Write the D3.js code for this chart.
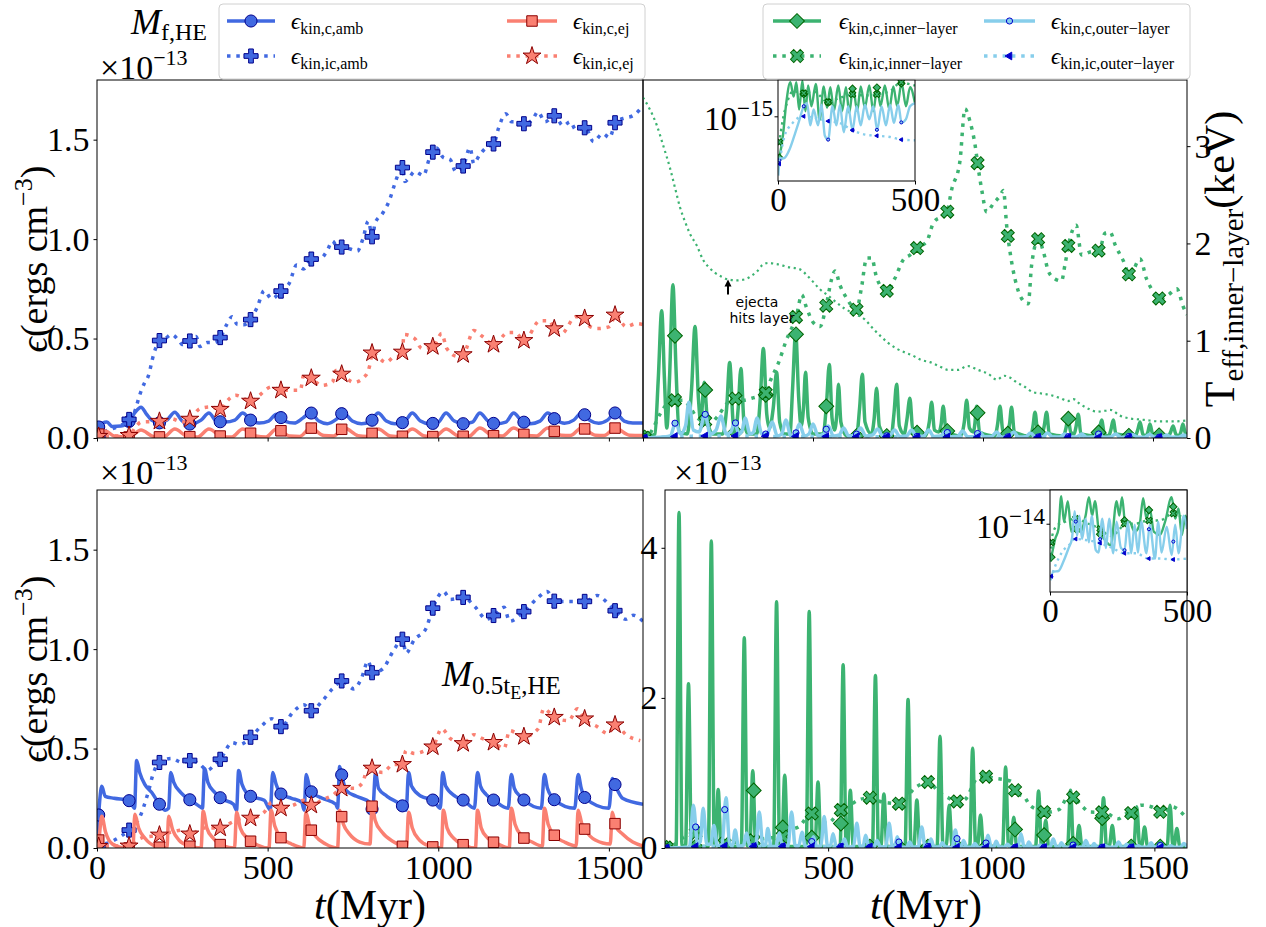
<!DOCTYPE html>
<html><head><meta charset="utf-8">
<script src="https://cdn.jsdelivr.net/npm/d3@7"></script>
<style>body{margin:0;background:#fff}svg{display:block}</style>
</head><body><script>
// ---------------- data ----------------
// time in Myr; energy densities in units of 1e-13 erg cm^-3
const markTimes = [5,94,183,272,361,450,539,628,717,806,895,984,1073,1162,1251,1340,1429,1518];
const xTicksMain = [0,500,1000,1500];

// M_f,HE (top row)
const tlCAmb = [[0,0.0],[6,0.06],[16,0.075],[29,0.08],[45,0.058],[70,0.06],[95,0.085],[112,0.13],[129,0.155],[145,0.12],[160,0.09],[183,0.076],[205,0.09],[228,0.13],[250,0.085],[274,0.07],[305,0.09],[328,0.126],[350,0.085],[375,0.08],[404,0.09],[427,0.126],[450,0.09],[475,0.075],[503,0.085],[526,0.12],[550,0.085],[578,0.075],[603,0.1],[626,0.126],[650,0.085],[675,0.072],[702,0.095],[722,0.126],[748,0.085],[775,0.072],[800,0.08],[824,0.126],[848,0.085],[873,0.072],[900,0.08],[924,0.126],[948,0.085],[973,0.072],[1000,0.08],[1023,0.126],[1047,0.085],[1074,0.072],[1100,0.08],[1122,0.126],[1146,0.085],[1170,0.072],[1198,0.08],[1221,0.126],[1245,0.085],[1270,0.072],[1298,0.085],[1321,0.126],[1345,0.09],[1370,0.074],[1397,0.09],[1420,0.126],[1445,0.088],[1470,0.074],[1496,0.09],[1519,0.126],[1545,0.085],[1570,0.075],[1600,0.075]];
const tlICAmb = [[0,0],[20,0.03],[50,0.05],[92,0.09],[110,0.13],[124,0.21],[140,0.28],[150,0.31],[166,0.42],[183,0.49],[200,0.50],[218,0.52],[240,0.49],[250,0.47],[274,0.49],[290,0.51],[302,0.46],[323,0.48],[345,0.48],[363,0.51],[380,0.57],[396,0.61],[412,0.57],[430,0.57],[452,0.60],[470,0.66],[490,0.74],[512,0.70],[540,0.74],[564,0.78],[585,0.87],[606,0.85],[629,0.90],[653,0.90],[674,0.94],[690,0.99],[705,0.96],[718,0.96],[742,0.95],[763,0.94],[779,1.00],[795,1.09],[807,1.01],[815,1.08],[837,1.13],[858,1.20],[873,1.28],[889,1.35],[896,1.36],[902,1.29],[915,1.31],[931,1.34],[957,1.32],[973,1.40],[985,1.44],[994,1.46],[1015,1.41],[1035,1.40],[1051,1.34],[1074,1.37],[1093,1.46],[1104,1.38],[1120,1.42],[1140,1.46],[1163,1.48],[1177,1.56],[1198,1.63],[1215,1.59],[1229,1.59],[1252,1.58],[1276,1.60],[1292,1.64],[1313,1.59],[1340,1.62],[1366,1.57],[1387,1.59],[1403,1.55],[1431,1.56],[1455,1.49],[1482,1.53],[1502,1.51],[1520,1.59],[1549,1.61],[1570,1.62],[1600,1.67]];
const tlCEj = [[0,0.0],[10,0.03],[25,0.035],[50,0.01],[95,0.005],[129,0.04],[165,0.008],[195,0.005],[228,0.045],[265,0.008],[295,0.005],[328,0.045],[365,0.008],[395,0.005],[427,0.045],[465,0.01],[495,0.005],[526,0.045],[565,0.01],[595,0.008],[626,0.05],[665,0.012],[693,0.01],[725,0.05],[765,0.012],[792,0.008],[824,0.045],[860,0.01],[891,0.007],[924,0.045],[960,0.01],[990,0.007],[1023,0.045],[1060,0.01],[1089,0.008],[1122,0.05],[1160,0.012],[1188,0.01],[1221,0.05],[1260,0.012],[1288,0.01],[1321,0.05],[1360,0.014],[1387,0.012],[1420,0.05],[1460,0.014],[1486,0.012],[1519,0.05],[1560,0.014],[1600,0.012]];
const tlICEj = [[0,0],[8,0.01],[50,0.01],[94,0.013],[113,0.055],[129,0.08],[183,0.084],[218,0.097],[250,0.08],[274,0.097],[302,0.148],[333,0.156],[363,0.144],[375,0.173],[407,0.215],[452,0.185],[470,0.206],[512,0.257],[540,0.24],[564,0.24],[596,0.24],[606,0.32],[629,0.30],[658,0.265],[690,0.28],[700,0.34],[718,0.32],[753,0.28],[790,0.32],[800,0.37],[807,0.43],[816,0.42],[847,0.38],[873,0.41],[893,0.41],[900,0.52],[931,0.50],[952,0.45],[985,0.46],[1010,0.525],[1025,0.45],[1057,0.41],[1074,0.42],[1104,0.54],[1130,0.51],[1163,0.47],[1204,0.53],[1225,0.53],[1252,0.49],[1298,0.59],[1324,0.59],[1342,0.545],[1361,0.525],[1403,0.61],[1431,0.60],[1445,0.56],[1466,0.55],[1502,0.56],[1520,0.62],[1550,0.56],[1581,0.575],[1600,0.57]];

const trCIn = [[0,0.0],[20,0.01],[35,0.02],[45,0.3],[55,0.64],[63,0.3],[70,0.05],[78,0.3],[88,0.77],[97,0.35],[106,0.03],[130,0.02],[143,0.25],[153,0.56],[163,0.2],[170,0.08],[180,0.28],[190,0.08],[205,0.02],[235,0.02],[246,0.15],[255,0.38],[265,0.08],[272,0.03],[280,0.15],[288,0.35],[297,0.08],[310,0.02],[335,0.02],[345,0.2],[354,0.45],[364,0.12],[372,0.05],[383,0.15],[393,0.33],[402,0.08],[415,0.02],[432,0.02],[440,0.25],[449,0.53],[458,0.2],[465,0.06],[472,0.15],[478,0.33],[486,0.1],[500,0.02],[530,0.02],[540,0.18],[548,0.37],[556,0.1],[563,0.04],[570,0.12],[575,0.27],[582,0.08],[600,0.01],[628,0.01],[637,0.15],[645,0.32],[653,0.08],[672,0.02],[680,0.1],[687,0.25],[695,0.06],[715,0.01],[730,0.01],[738,0.12],[746,0.27],[754,0.06],[768,0.02],[776,0.09],[785,0.2],[793,0.05],[830,0.01],[842,0.08],[849,0.18],[857,0.04],[870,0.03],[877,0.07],[883,0.16],[891,0.04],[935,0.01],[945,0.08],[952,0.19],[960,0.05],[972,0.03],[976,0.07],[981,0.16],[990,0.03],[1035,0.01],[1043,0.07],[1050,0.16],[1058,0.04],[1072,0.02],[1078,0.07],[1084,0.155],[1092,0.03],[1140,0.01],[1147,0.06],[1153,0.13],[1161,0.03],[1173,0.02],[1180,0.06],[1187,0.13],[1195,0.02],[1237,0.01],[1244,0.05],[1250,0.10],[1258,0.03],[1268,0.02],[1274,0.06],[1280,0.12],[1288,0.02],[1335,0.01],[1342,0.04],[1349,0.09],[1357,0.02],[1369,0.01],[1376,0.04],[1383,0.09],[1391,0.02],[1448,0.01],[1455,0.04],[1462,0.08],[1470,0.02],[1478,0.01],[1485,0.03],[1491,0.07],[1499,0.02],[1545,0.01],[1552,0.03],[1559,0.06],[1567,0.02],[1575,0.01],[1582,0.03],[1588,0.07],[1596,0.02],[1600,0.02]];
const trICIn = [[0,0],[15,0.01],[30,0.05],[50,0.12],[70,0.17],[94,0.19],[119,0.19],[140,0.15],[160,0.1],[183,0.084],[200,0.08],[220,0.11],[245,0.17],[272,0.198],[295,0.19],[320,0.2],[340,0.21],[361,0.226],[375,0.29],[399,0.38],[419,0.48],[452,0.62],[467,0.72],[480,0.66],[501,0.58],[521,0.56],[537,0.65],[555,0.80],[565,0.84],[579,0.77],[600,0.70],[628,0.645],[642,0.75],[658,0.905],[673,0.905],[685,0.82],[700,0.76],[717,0.74],[740,0.8],[767,0.9],[785,0.92],[806,0.955],[835,0.99],[855,1.085],[893,1.13],[908,1.25],[932,1.39],[947,1.655],[962,1.59],[977,1.47],[986,1.357],[996,1.25],[1011,1.136],[1031,1.18],[1051,1.22],[1060,1.245],[1070,1.06],[1080,0.93],[1094,0.80],[1114,0.70],[1133,0.675],[1143,0.87],[1163,1.0],[1178,0.935],[1192,0.84],[1212,0.80],[1231,0.79],[1241,0.87],[1254,0.99],[1274,1.07],[1290,0.92],[1315,0.935],[1342,0.943],[1359,1.03],[1374,1.035],[1389,0.97],[1413,0.89],[1432,0.82],[1462,0.90],[1481,0.80],[1506,0.725],[1521,0.70],[1545,0.72],[1570,0.75],[1589,0.66],[1600,0.62]];
const trCOut = [[0,0],[60,0.005],[80,0.01],[97,0.08],[110,0.02],[125,0.06],[135,0.18],[148,0.04],[165,0.03],[182,0.12],[198,0.02],[215,0.04],[229,0.11],[245,0.02],[258,0.03],[270,0.08],[282,0.02],[292,0.04],[300,0.10],[315,0.02],[325,0.03],[335,0.10],[350,0.02],[365,0.02],[380,0.08],[395,0.01],[408,0.02],[420,0.09],[435,0.01],[448,0.02],[460,0.07],[475,0.01],[488,0.02],[500,0.07],[515,0.01],[532,0.02],[545,0.06],[560,0.01],[577,0.015],[590,0.05],[605,0.01],[625,0.015],[640,0.05],[655,0.01],[675,0.015],[690,0.045],[705,0.01],[725,0.012],[740,0.04],[755,0.008],[775,0.01],[790,0.04],[805,0.008],[825,0.01],[840,0.04],[855,0.008],[875,0.01],[890,0.035],[905,0.006],[925,0.008],[940,0.035],[955,0.006],[975,0.008],[990,0.03],[1005,0.006],[1025,0.008],[1040,0.03],[1055,0.005],[1075,0.006],[1090,0.03],[1105,0.005],[1125,0.006],[1140,0.025],[1155,0.005],[1175,0.006],[1190,0.025],[1205,0.005],[1225,0.005],[1240,0.02],[1255,0.004],[1275,0.005],[1290,0.02],[1305,0.004],[1325,0.005],[1340,0.02],[1355,0.004],[1375,0.005],[1390,0.02],[1405,0.004],[1425,0.005],[1440,0.018],[1455,0.004],[1475,0.004],[1490,0.018],[1505,0.004],[1525,0.004],[1540,0.015],[1555,0.004],[1575,0.004],[1590,0.015],[1600,0.008]];
const trICOut = [[0,0],[50,0.003],[100,0.008],[200,0.01],[300,0.01],[400,0.008],[500,0.008],[600,0.006],[700,0.006],[800,0.005],[900,0.005],[1000,0.004],[1100,0.004],[1200,0.004],[1300,0.003],[1400,0.003],[1500,0.003],[1600,0.003]];
// effective temperature of the inner layer, keV
const trTeff = [[0,3.5],[20,3.38],[40,3.22],[60,3.0],[79,2.78],[95,2.56],[109,2.37],[124,2.22],[138,2.10],[158,1.98],[177,1.83],[195,1.75],[211,1.70],[230,1.66],[250,1.63],[275,1.62],[299,1.63],[320,1.67],[335,1.71],[352,1.78],[370,1.80],[388,1.79],[405,1.78],[422,1.76],[440,1.75],[464,1.73],[480,1.68],[499,1.61],[520,1.53],[546,1.46],[570,1.39],[593,1.33],[620,1.28],[652,1.22],[675,1.13],[698,1.05],[720,0.98],[745,0.92],[770,0.88],[792,0.85],[820,0.80],[844,0.78],[870,0.74],[898,0.70],[926,0.70],[955,0.74],[985,0.70],[1015,0.66],[1041,0.60],[1062,0.64],[1080,0.62],[1100,0.57],[1121,0.53],[1148,0.47],[1168,0.46],[1200,0.44],[1227,0.41],[1250,0.38],[1266,0.40],[1285,0.35],[1310,0.30],[1335,0.27],[1360,0.28],[1374,0.29],[1403,0.23],[1433,0.20],[1462,0.19],[1490,0.18],[1520,0.17],[1560,0.17],[1599,0.18]];
const teffTicks = [0,1,2,3];

// first 500 Myr of the layers, units of 1e-15 erg cm^-3 (log axis)
const trInCIn = [[4,0.29],[18,0.57],[30,1.46],[45,2.68],[57,1.77],[67,2.68],[77,1.22],[89,2.8],[100,1.16],[110,2.44],[122,1.34],[138,2.56],[152,0.9],[167,2.38],[179,1.28],[191,2.32],[204,1.16],[220,2.44],[234,1.16],[248,2.32],[260,1.1],[274,2.32],[289,1.16],[302,2.38],[317,1.28],[333,2.44],[348,1.16],[362,2.32],[374,1.34],[390,2.44],[406,1.22],[421,2.38],[435,1.34],[451,2.62],[467,1.34],[482,2.32],[500,1.46]];
const trInICIn = [[4,0.45],[18,0.92],[37,1.63],[55,2.07],[91,1.95],[128,2.07],[152,1.83],[179,1.51],[226,1.71],[272,1.89],[317,1.83],[360,1.89],[409,2.07],[449,2.68],[476,2.56],[500,2.44]];
const trInCOut = [[1,0.18],[6,0.29],[24,0.3],[43,0.39],[61,0.59],[79,0.92],[94,1.34],[106,1.46],[118,0.77],[130,1.22],[146,0.77],[159,1.4],[171,0.57],[183,0.51],[199,1.34],[213,0.77],[226,1.4],[240,0.63],[256,1.34],[272,0.67],[287,1.34],[302,0.77],[317,1.4],[333,0.92],[348,1.34],[362,0.67],[378,1.34],[394,0.77],[409,1.4],[423,0.83],[439,1.4],[451,0.83],[467,0.92],[482,1.34],[500,1.46]];
const trInICOut = [[4,0.24],[24,0.57],[49,0.79],[91,1.0],[140,0.95],[183,0.87],[226,0.82],[272,0.67],[317,0.59],[360,0.57],[409,0.55],[449,0.51],[500,0.5]];

// M_0.5tE,HE (bottom row)
const blCAmb = [[0,0],[8,0.24],[14,0.31],[24,0.26],[50,0.25],[92,0.24],[105,0.21],[110,0.2],[116,0.44],[125,0.38],[140,0.32],[160,0.28],[183,0.22],[200,0.19],[210,0.2],[216,0.38],[225,0.33],[245,0.28],[274,0.24],[300,0.21],[309,0.2],[315,0.40],[325,0.33],[345,0.28],[363,0.25],[400,0.22],[409,0.19],[415,0.39],[425,0.32],[450,0.26],[490,0.24],[508,0.19],[515,0.38],[525,0.32],[540,0.27],[570,0.25],[600,0.23],[607,0.19],[613,0.37],[622,0.31],[629,0.28],[660,0.25],[700,0.22],[705,0.2],[711,0.41],[718,0.36],[730,0.29],[760,0.26],[800,0.23],[808,0.19],[816,0.38],[825,0.3],[850,0.26],[896,0.21],[906,0.19],[913,0.38],[922,0.31],[950,0.26],[985,0.24],[1006,0.2],[1013,0.38],[1022,0.31],[1050,0.26],[1074,0.24],[1106,0.2],[1115,0.38],[1124,0.31],[1140,0.27],[1163,0.24],[1205,0.2],[1214,0.37],[1223,0.3],[1240,0.26],[1252,0.24],[1302,0.2],[1311,0.37],[1320,0.3],[1342,0.24],[1400,0.2],[1410,0.37],[1419,0.3],[1431,0.25],[1500,0.2],[1510,0.35],[1520,0.31],[1540,0.25],[1600,0.22]];
const blICAmb = [[0,0],[8,0.01],[40,0.03],[71,0.06],[94,0.09],[124,0.15],[150,0.28],[166,0.38],[183,0.43],[218,0.45],[250,0.43],[274,0.44],[302,0.42],[323,0.39],[340,0.41],[363,0.45],[396,0.53],[418,0.52],[452,0.56],[480,0.61],[512,0.65],[540,0.61],[575,0.685],[606,0.72],[629,0.69],[658,0.735],[690,0.80],[718,0.84],[753,0.80],[774,0.85],[795,0.94],[807,0.88],[837,0.90],[868,0.99],[896,1.05],[905,0.98],[931,1.05],[963,1.10],[985,1.21],[1015,1.29],[1036,1.25],[1074,1.26],[1109,1.21],[1141,1.15],[1163,1.17],[1193,1.21],[1209,1.14],[1252,1.19],[1293,1.26],[1319,1.29],[1342,1.24],[1382,1.24],[1431,1.24],[1466,1.27],[1497,1.23],[1520,1.19],[1550,1.15],[1571,1.17],[1600,1.14]];
const blCEj = [[0,0],[6,0.05],[14,0.16],[25,0.08],[45,0.02],[80,0.0],[105,0.0],[111,0.17],[122,0.1],[140,0.05],[170,0.01],[205,0.0],[210,0.16],[222,0.09],[240,0.04],[270,0.01],[305,0.0],[311,0.185],[322,0.1],[340,0.05],[370,0.01],[403,0.0],[409,0.18],[420,0.1],[440,0.05],[470,0.015],[504,0.0],[510,0.19],[521,0.11],[540,0.05],[570,0.02],[606,0.0],[612,0.18],[623,0.11],[640,0.06],[670,0.02],[705,0.0],[711,0.19],[722,0.12],[740,0.07],[770,0.03],[800,0.02],[806,0.21],[815,0.14],[835,0.08],[870,0.03],[907,0.005],[913,0.18],[924,0.1],[945,0.04],[975,0.01],[1009,0.0],[1015,0.19],[1026,0.1],[1045,0.05],[1075,0.015],[1109,0.0],[1115,0.19],[1126,0.1],[1145,0.05],[1175,0.02],[1208,0.0],[1214,0.2],[1225,0.12],[1245,0.06],[1275,0.03],[1305,0.01],[1311,0.2],[1322,0.12],[1342,0.06],[1370,0.03],[1404,0.01],[1410,0.19],[1421,0.12],[1431,0.09],[1460,0.04],[1504,0.02],[1510,0.18],[1520,0.11],[1540,0.07],[1570,0.03],[1600,0.01]];
const blICEj = [[0,0],[8,0.01],[50,0.01],[94,0.01],[129,0.05],[183,0.065],[218,0.08],[250,0.09],[274,0.07],[312,0.10],[363,0.10],[396,0.13],[428,0.15],[452,0.15],[490,0.18],[512,0.23],[540,0.20],[575,0.215],[606,0.24],[629,0.215],[658,0.24],[690,0.265],[718,0.30],[753,0.30],[779,0.33],[795,0.42],[807,0.40],[837,0.38],[868,0.42],[896,0.42],[905,0.49],[931,0.475],[963,0.49],[985,0.51],[1010,0.60],[1036,0.55],[1074,0.525],[1104,0.57],[1130,0.55],[1163,0.53],[1193,0.50],[1209,0.59],[1252,0.56],[1293,0.60],[1309,0.70],[1342,0.655],[1382,0.64],[1408,0.70],[1431,0.645],[1466,0.61],[1497,0.575],[1520,0.62],[1550,0.57],[1592,0.54]];

const brCIn = [[0,0.0],[34,0.02],[43,4.47],[52,0.03],[63,0.03],[72,2.19],[81,0.02],[133,0.02],[142,4.09],[151,0.03],[155,0.03],[163,0.78],[172,0.02],[234,0.02],[243,2.80],[252,0.03],[260,0.03],[269,1.03],[278,0.02],[333,0.02],[342,3.28],[351,0.03],[358,0.03],[367,0.97],[376,0.02],[433,0.02],[442,3.15],[451,0.03],[460,0.03],[469,0.88],[478,0.02],[537,0.02],[546,2.44],[555,0.03],[560,0.03],[568,0.77],[577,0.02],[636,0.02],[645,2.30],[654,0.03],[662,0.03],[671,0.72],[680,0.02],[736,0.02],[745,1.98],[754,0.03],[763,0.03],[772,0.64],[781,0.02],[834,0.02],[843,1.49],[852,0.03],[862,0.03],[871,0.57],[880,0.02],[934,0.02],[943,1.33],[952,0.03],[958,0.03],[967,0.44],[976,0.02],[1035,0.02],[1044,1.08],[1053,0.03],[1060,0.03],[1069,0.41],[1078,0.02],[1136,0.02],[1145,0.76],[1154,0.03],[1158,0.03],[1167,0.37],[1176,0.02],[1234,0.02],[1243,0.77],[1252,0.03],[1260,0.03],[1269,0.30],[1278,0.02],[1335,0.02],[1344,0.67],[1353,0.03],[1362,0.03],[1371,0.30],[1380,0.02],[1437,0.02],[1446,0.55],[1455,0.03],[1461,0.03],[1470,0.28],[1479,0.02],[1539,0.02],[1548,0.57],[1557,0.02],[1560,0.02],[1569,0.26],[1578,0.02],[1600,0.02]];
const brICIn = [[0,0],[30,0.05],[60,0.15],[94,0.2],[130,0.12],[183,0.06],[230,0.08],[268,0.10],[310,0.13],[359,0.15],[390,0.25],[409,0.28],[449,0.46],[470,0.38],[498,0.33],[540,0.51],[560,0.55],[593,0.64],[630,0.67],[660,0.62],[687,0.60],[719,0.59],[766,0.80],[790,0.86],[808,0.88],[840,0.74],[860,0.69],[897,0.62],[918,0.64],[960,0.94],[986,0.95],[1010,0.93],[1060,0.89],[1078,0.73],[1102,0.68],[1118,0.57],[1150,0.50],[1167,0.475],[1207,0.51],[1238,0.69],[1256,0.66],[1280,0.55],[1301,0.48],[1345,0.475],[1390,0.39],[1410,0.45],[1437,0.475],[1458,0.57],[1490,0.55],[1529,0.47],[1553,0.55],[1595,0.42]];
const brCOut = [[0,0],[75,0.01],[87,0.57],[100,0.05],[108,0.08],[117,0.53],[128,0.05],[140,0.05],[150,0.3],[160,0.03],[175,0.05],[187,0.67],[198,0.05],[207,0.04],[215,0.24],[225,0.02],[240,0.03],[250,0.2],[260,0.02],[278,0.03],[289,0.48],[300,0.03],[308,0.04],[315,0.26],[325,0.02],[340,0.02],[350,0.2],[360,0.02],[377,0.03],[388,0.48],[399,0.03],[410,0.03],[420,0.21],[430,0.02],[445,0.02],[455,0.15],[465,0.02],[478,0.03],[488,0.42],[498,0.03],[507,0.03],[515,0.19],[525,0.02],[540,0.02],[550,0.12],[560,0.01],[578,0.02],[588,0.33],[598,0.02],[607,0.02],[615,0.17],[625,0.01],[640,0.01],[650,0.1],[660,0.01],[677,0.02],[687,0.33],[697,0.02],[704,0.02],[712,0.15],[722,0.01],[740,0.01],[750,0.08],[760,0.01],[777,0.02],[787,0.28],[797,0.02],[807,0.02],[815,0.12],[825,0.01],[840,0.01],[850,0.07],[860,0.01],[880,0.01],[890,0.24],[900,0.01],[907,0.01],[915,0.1],[925,0.01],[940,0.01],[950,0.06],[960,0.01],[980,0.01],[990,0.17],[1000,0.01],[1007,0.01],[1015,0.09],[1025,0.01],[1040,0.01],[1050,0.05],[1060,0.01],[1081,0.01],[1091,0.19],[1101,0.01],[1108,0.01],[1115,0.08],[1125,0.01],[1140,0.01],[1150,0.04],[1160,0.01],[1180,0.01],[1190,0.12],[1200,0.01],[1207,0.01],[1215,0.07],[1225,0.01],[1240,0.01],[1250,0.04],[1260,0.01],[1280,0.01],[1290,0.1],[1300,0.01],[1307,0.01],[1315,0.06],[1325,0.01],[1340,0.01],[1350,0.03],[1360,0.01],[1380,0.01],[1390,0.08],[1400,0.01],[1407,0.01],[1415,0.05],[1425,0.01],[1440,0.01],[1450,0.03],[1460,0.01],[1480,0.01],[1490,0.07],[1500,0.01],[1507,0.01],[1515,0.04],[1525,0.01],[1540,0.01],[1550,0.03],[1560,0.01],[1580,0.01],[1590,0.06],[1600,0.02]];
const brICOut = [[0,0],[50,0.005],[100,0.02],[200,0.025],[300,0.02],[400,0.02],[500,0.015],[600,0.015],[700,0.012],[800,0.01],[900,0.01],[1000,0.01],[1100,0.008],[1200,0.008],[1300,0.006],[1400,0.006],[1500,0.005],[1600,0.005]];
const brTicks = [0,2,4];

// first 500 Myr, units of 1e-14 erg cm^-3 (log axis)
const brInCIn = [[2,0.33],[19,0.64],[31,0.86],[41,2.25],[51,1.06],[65,1.94],[78,0.79],[93,0.86],[111,0.79],[130,1.27],[142,2.18],[154,1.27],[164,1.94],[179,0.79],[198,0.64],[222,0.53],[243,1.94],[253,1.27],[263,2.18],[275,0.97],[290,1.06],[309,0.79],[327,0.97],[340,2.12],[352,1.16],[364,1.57],[379,0.79],[401,0.72],[420,1.06],[444,2.18],[457,1.16],[469,1.57],[481,0.72],[494,1.27],[500,1.06]];
const brInICIn = [[0,0.33],[8,0.70],[25,0.94],[56,1.06],[93,1.16],[140,1.0],[183,0.86],[220,0.70],[250,0.81],[272,1.0],[310,1.0],[360,1.10],[400,1.10],[449,1.35],[480,1.24],[500,1.20]];
const brInCOut = [[2,0.19],[12,0.245],[31,0.25],[49,0.33],[68,0.49],[80,0.64],[90,1.44],[99,0.70],[107,1.27],[117,0.64],[130,1.16],[142,0.58],[152,1.27],[167,0.46],[177,0.43],[191,1.16],[204,0.49],[216,1.16],[231,0.42],[243,1.06],[259,0.49],[272,0.46],[284,1.06],[296,0.42],[309,0.97],[321,0.43],[333,1.06],[352,0.42],[364,0.97],[383,0.36],[395,1.06],[407,0.43],[426,0.92],[444,0.40],[457,0.97],[469,0.42],[488,1.27],[500,0.86]];
const brInICOut = [[2,0.20],[19,0.29],[43,0.43],[80,0.58],[90,0.64],[130,0.62],[181,0.57],[228,0.49],[269,0.42],[315,0.42],[358,0.36],[401,0.36],[448,0.35],[500,0.36]];

// ---------------- styling ----------------
const SERIF = "'Liberation Serif','DejaVu Serif',serif";
const SANS = "'DejaVu Sans',sans-serif";
const COL = {amb:'#4169e1', ej:'#fa8072', inner:'#3cb371', outer:'#87ceeb'};
const STY = {
  cAmb:{color:COL.amb, dotted:false, sym:'circle', fill:COL.amb, edge:'#00008b'},
  icAmb:{color:COL.amb, dotted:true, sym:'plus', fill:COL.amb, edge:'#00008b'},
  cEj:{color:COL.ej, dotted:false, sym:'square', fill:COL.ej, edge:'#8b0000'},
  icEj:{color:COL.ej, dotted:true, sym:'star', fill:COL.ej, edge:'#8b0000'},
  cIn:{color:COL.inner, dotted:false, sym:'diamond', fill:COL.inner, edge:'#006400'},
  icIn:{color:COL.inner, dotted:true, sym:'x', fill:COL.inner, edge:'#006400'},
  cOut:{color:COL.outer, dotted:false, sym:'ring', fill:COL.outer, edge:'#0000cd'},
  icOut:{color:COL.outer, dotted:true, sym:'tri', fill:'#0000cd', edge:'#0000cd'}
};
const MAIN = {lw:3.5, dash:'3.5,5.8', ms:1};
const INSET = {lw:2.4, dash:'2.4,4', ms:0.5};

const svg = d3.select('body').append('svg').attr('width',1266).attr('height',927);
const defs = svg.append('defs');
let clipN = 0;
function clipGroup(b){
  const id = 'clip'+(clipN++);
  defs.append('clipPath').attr('id',id).append('rect')
    .attr('x',b[0]).attr('y',b[2]).attr('width',b[1]-b[0]).attr('height',b[3]-b[2]);
  return svg.append('g').attr('clip-path',`url(#${id})`);
}
function symPath(kind, s){
  const a = {circle:115, plus:110, square:110, star:100, diamond:110, x:105, ring:30, tri:26}[kind]*s*s;
  const t = {circle:d3.symbolCircle, plus:d3.symbolCross, square:d3.symbolSquare, star:d3.symbolStar,
             diamond:d3.symbolSquare, x:d3.symbolCross, ring:d3.symbolCircle, tri:d3.symbolTriangle}[kind];
  return d3.symbol(t, a)();
}
const symRot = {diamond:45, x:45, tri:-90};
function drawMarker(g, x, y, sty, s){
  g.append('path').attr('d', symPath(sty.sym, s))
    .attr('transform', `translate(${x},${y}) rotate(${symRot[sty.sym]||0})`)
    .attr('fill', sty.fill).attr('stroke', sty.edge).attr('stroke-width', 1);
}
function yAtX(node, x){
  let lo = 0, hi = node.getTotalLength();
  for(let i=0;i<40;i++){
    const mid = (lo+hi)/2;
    if(node.getPointAtLength(mid).x < x) lo = mid; else hi = mid;
  }
  return node.getPointAtLength((lo+hi)/2).y;
}
function drawSeries(g, data, xS, yS, sty, o){
  const line = d3.line().x(d=>xS(d[0])).y(d=>yS(d[1])).curve(d3.curveMonotoneX);
  const p = g.append('path').attr('d', line(data)).attr('fill','none')
    .attr('stroke', sty.color).attr('stroke-width', o.lw)
    .attr('stroke-dasharray', sty.dotted ? o.dash : null);
  const node = p.node();
  const [d0, d1] = xS.domain();
  const lo = Math.max(d0, data[0][0]), hi = Math.min(d1, data[data.length-1][0]);
  markTimes.filter(t => t>=lo && t<=hi).forEach(t => {
    const x = xS(t);
    drawMarker(g, x, yAtX(node, x), sty, o.ms);
  });
}
// text made of runs: {t, fs, it, sh (baseline shift in px, negative = up)}
function rich(g, x, y, parts, o={}){
  const t = g.append('text').attr('x',x).attr('y',y).attr('font-family',o.family||SERIF)
    .attr('text-anchor', o.anchor||'start').attr('fill','#000');
  if(o.rotate) t.attr('transform',`rotate(${o.rotate},${x},${y})`);
  let cur = 0;
  parts.forEach(p => {
    const sh = p.sh||0;
    t.append('tspan').attr('dy', sh-cur).attr('font-size', p.fs)
      .attr('font-style', p.it ? 'italic' : null).text(p.t);
    cur = sh;
  });
  return t;
}
function frame(b){
  svg.append('rect').attr('x',b[0]).attr('y',b[2]).attr('width',b[1]-b[0]).attr('height',b[3]-b[2])
    .attr('fill','none').attr('stroke','#000').attr('stroke-width',1);
}
function styleAxis(g, fs){
  g.select('.domain').remove();
  g.selectAll('text').attr('font-family',SERIF).attr('font-size',fs).attr('fill','#000');
  g.selectAll('line').attr('stroke','#000');
}
const TFS = 34;
const fmtInt = d3.format('d');
function offsetLabel(x, y){
  rich(svg, x, y, [{t:'×10', fs:TFS},{t:'−13', fs:22, sh:-14}]);
}

// ---------------- panel geometry ----------------
const B = {
  tl:[97,643,80,438], tr:[643,1187,80,438], bl:[97,643,490,848], br:[665,1187,490,848],
  trIn:[778,915,80,181], brIn:[1050,1187,490,592]
};
const xS = k => d3.scaleLinear().domain([0,1600]).range([B[k][0],B[k][1]]);
const yS = (k, top) => d3.scaleLinear().domain([0,top]).range([B[k][3],B[k][2]]);

// ---------- top left ----------
{
  const x = xS('tl'), y = yS('tl',1.8);
  const g = clipGroup(B.tl);
  drawSeries(g, tlCAmb, x, y, STY.cAmb, MAIN);
  drawSeries(g, tlICAmb, x, y, STY.icAmb, MAIN);
  drawSeries(g, tlCEj, x, y, STY.cEj, MAIN);
  drawSeries(g, tlICEj, x, y, STY.icEj, MAIN);
  frame(B.tl);
  styleAxis(svg.append('g').attr('transform',`translate(${B.tl[0]},0)`)
    .call(d3.axisLeft(y).tickValues([0,0.5,1.0,1.5]).tickFormat(d3.format('.1f')).tickSize(3.5).tickPadding(4)), TFS);
  styleAxis(svg.append('g').attr('transform',`translate(0,${B.tl[3]})`)
    .call(d3.axisBottom(x).tickValues(xTicksMain).tickFormat('').tickSize(3.5)), TFS);
  offsetLabel(100, 79);
  rich(svg, 207, 34, [{t:'M', fs:36, it:true},{t:'f,HE', fs:24, sh:6}], {anchor:'end'});
}

// ---------- top right ----------
{
  const x = xS('tr'), y = yS('tr',1.8), yT = yS('tr',3.68);
  const g = clipGroup(B.tr);
  drawSeries(g, trCIn, x, y, STY.cIn, MAIN);
  drawSeries(g, trICIn, x, y, STY.icIn, MAIN);
  drawSeries(g, trCOut, x, y, STY.cOut, MAIN);
  drawSeries(g, trICOut, x, y, STY.icOut, MAIN);
  g.append('path').attr('d', d3.line().x(d=>x(d[0])).y(d=>yT(d[1])).curve(d3.curveMonotoneX)(trTeff))
    .attr('fill','none').attr('stroke',COL.inner).attr('stroke-width',2.2).attr('stroke-dasharray','2.2,3.6');
  // annotation: ejecta reaching the layer
  const ax = x(250), ay = yT(1.63);
  svg.append('line').attr('x1',ax).attr('x2',ax).attr('y1',ay+15).attr('y2',ay+6)
    .attr('stroke','#000').attr('stroke-width',2);
  svg.append('path').attr('d',`M${ax-3.5},${ay+7}L${ax},${ay}L${ax+3.5},${ay+7}Z`).attr('fill','#000');
  rich(svg, ax+29, ay+28, [{t:'ejecta', fs:14}], {anchor:'middle', family:SANS});
  rich(svg, ax+34, ay+44, [{t:'hits layer', fs:14}], {anchor:'middle', family:SANS});
  frame(B.tr);
  styleAxis(svg.append('g').attr('transform',`translate(${B.tr[1]},0)`)
    .call(d3.axisRight(yT).tickValues(teffTicks).tickFormat(fmtInt).tickSize(3.5).tickPadding(4)), TFS);
  styleAxis(svg.append('g').attr('transform',`translate(0,${B.tr[3]})`)
    .call(d3.axisBottom(x).tickValues(xTicksMain).tickFormat('').tickSize(3.5)), TFS);
  rich(svg, 1234, (B.tr[2]+B.tr[3])/2, [{t:'T', fs:42},{t:'eff,inner−layer', fs:29, sh:9},{t:'(keV)', fs:42, sh:0}],
    {anchor:'middle', rotate:-90});

  // inset, log scale
  const b = B.trIn;
  svg.append('rect').attr('x',b[0]).attr('y',b[2]).attr('width',b[1]-b[0]).attr('height',b[3]-b[2]).attr('fill','#fff');
  const xi = d3.scaleLinear().domain([0,500]).range([b[0],b[1]]);
  const yi = d3.scaleLog().domain([0.154,2.86]).range([b[3],b[2]]);
  const gi = clipGroup(b);
  drawSeries(gi, trInCIn, xi, yi, STY.cIn, INSET);
  drawSeries(gi, trInICIn, xi, yi, STY.icIn, INSET);
  drawSeries(gi, trInCOut, xi, yi, STY.cOut, INSET);
  drawSeries(gi, trInICOut, xi, yi, STY.icOut, INSET);
  frame(b);
  styleAxis(svg.append('g').attr('transform',`translate(0,${b[3]})`)
    .call(d3.axisBottom(xi).tickValues([0,500]).tickFormat(fmtInt).tickSize(3.5).tickPadding(3)), 33);
  styleAxis(svg.append('g').attr('transform',`translate(${b[0]},0)`)
    .call(d3.axisLeft(yi).tickValues([1]).tickFormat('').tickSize(3.5)), 33);
  rich(svg, b[0]-5, yi(1)+14, [{t:'10', fs:33},{t:'−15', fs:23, sh:-14}], {anchor:'end'});
}

// ---------- bottom left ----------
{
  const x = xS('bl'), y = yS('bl',1.8);
  const g = clipGroup(B.bl);
  drawSeries(g, blCAmb, x, y, STY.cAmb, MAIN);
  drawSeries(g, blICAmb, x, y, STY.icAmb, MAIN);
  drawSeries(g, blCEj, x, y, STY.cEj, MAIN);
  drawSeries(g, blICEj, x, y, STY.icEj, MAIN);
  frame(B.bl);
  styleAxis(svg.append('g').attr('transform',`translate(${B.bl[0]},0)`)
    .call(d3.axisLeft(y).tickValues([0,0.5,1.0,1.5]).tickFormat(d3.format('.1f')).tickSize(3.5).tickPadding(4)), TFS);
  styleAxis(svg.append('g').attr('transform',`translate(0,${B.bl[3]})`)
    .call(d3.axisBottom(x).tickValues(xTicksMain).tickFormat(fmtInt).tickSize(3.5).tickPadding(3)), TFS);
  offsetLabel(100, 484);
  rich(svg, 442, 686, [{t:'M', fs:36, it:true},{t:'0.5t', fs:25, sh:8},{t:'E', fs:18, sh:13},{t:',HE', fs:25, sh:8}]);
  rich(svg, (B.bl[0]+B.bl[1])/2, 919, [{t:'t', fs:42, it:true},{t:'(Myr)', fs:42}], {anchor:'middle'});
}

// ---------- bottom right ----------
{
  const x = xS('br'), y = yS('br',4.77);
  const g = clipGroup(B.br);
  drawSeries(g, brCIn, x, y, STY.cIn, MAIN);
  drawSeries(g, brICIn, x, y, STY.icIn, MAIN);
  drawSeries(g, brCOut, x, y, STY.cOut, MAIN);
  drawSeries(g, brICOut, x, y, STY.icOut, MAIN);
  frame(B.br);
  styleAxis(svg.append('g').attr('transform',`translate(${B.br[0]},0)`)
    .call(d3.axisLeft(y).tickValues(brTicks).tickFormat(fmtInt).tickSize(3.5).tickPadding(4)), TFS);
  styleAxis(svg.append('g').attr('transform',`translate(0,${B.br[3]})`)
    .call(d3.axisBottom(x).tickValues([500,1000,1500]).tickFormat(fmtInt).tickSize(3.5).tickPadding(3)), TFS);
  offsetLabel(674, 484);
  rich(svg, (B.br[0]+B.br[1])/2, 919, [{t:'t', fs:42, it:true},{t:'(Myr)', fs:42}], {anchor:'middle'});

  const b = B.brIn;
  svg.append('rect').attr('x',b[0]).attr('y',b[2]).attr('width',b[1]-b[0]).attr('height',b[3]-b[2]).attr('fill','#fff');
  const xi = d3.scaleLinear().domain([0,500]).range([b[0],b[1]]);
  const yi = d3.scaleLog().domain([0.135,2.69]).range([b[3],b[2]]);
  const gi = clipGroup(b);
  drawSeries(gi, brInCIn, xi, yi, STY.cIn, INSET);
  drawSeries(gi, brInICIn, xi, yi, STY.icIn, INSET);
  drawSeries(gi, brInCOut, xi, yi, STY.cOut, INSET);
  drawSeries(gi, brInICOut, xi, yi, STY.icOut, INSET);
  frame(b);
  styleAxis(svg.append('g').attr('transform',`translate(0,${b[3]})`)
    .call(d3.axisBottom(xi).tickValues([0,500]).tickFormat(fmtInt).tickSize(3.5).tickPadding(3)), 33);
  styleAxis(svg.append('g').attr('transform',`translate(${b[0]},0)`)
    .call(d3.axisLeft(yi).tickValues([1]).tickFormat('').tickSize(3.5)), 33);
  rich(svg, b[0]-5, yi(1)+14, [{t:'10', fs:33},{t:'−14', fs:23, sh:-14}], {anchor:'end'});
}

// shared y labels
[B.tl, B.bl].forEach(b => {
  rich(svg, 47, (b[2]+b[3])/2, [{t:'ϵ', fs:38, it:true},{t:'(ergs cm', fs:38},{t:'−3', fs:26, sh:-15},{t:')', fs:38, sh:0}],
    {anchor:'middle', rotate:-90});
});

// ---------------- legends ----------------
function legend(box, cols, rows){
  svg.append('rect').attr('x',box[0]).attr('y',box[2]).attr('width',box[1]-box[0]).attr('height',box[3]-box[2])
    .attr('rx',4).attr('fill','#fff').attr('fill-opacity',0.85).attr('stroke','#d0d0d0').attr('stroke-width',1);
  const g = svg.append('g');
  cols.forEach(c => c.items.forEach((it, ri) => {
    const yy = rows[ri], sty = STY[it.key];
    g.append('line').attr('x1',c.x0).attr('x2',c.x1).attr('y1',yy).attr('y2',yy)
      .attr('stroke',sty.color).attr('stroke-width',MAIN.lw).attr('stroke-dasharray',sty.dotted?MAIN.dash:null);
    drawMarker(g, (c.x0+c.x1)/2, yy, sty, 1);
    rich(g, c.tx, yy+8, [{t:'ϵ', fs:23, it:true},{t:it.sub, fs:16, sh:5}]);
  }));
}
legend([219,645,4,79], [
  {x0:227, x1:275, tx:291, items:[{key:'cAmb', sub:'kin,c,amb'},{key:'icAmb', sub:'kin,ic,amb'}]},
  {x0:507, x1:557, tx:573, items:[{key:'cEj', sub:'kin,c,ej'},{key:'icEj', sub:'kin,ic,ej'}]}
], [21, 56]);
legend([763,1190,4,79], [
  {x0:773, x1:821, tx:839, items:[{key:'cIn', sub:'kin,c,inner−layer'},{key:'icIn', sub:'kin,ic,inner−layer'}]},
  {x0:984, x1:1035, tx:1051, items:[{key:'cOut', sub:'kin,c,outer−layer'},{key:'icOut', sub:'kin,ic,outer−layer'}]}
], [21, 56]);
</script></body></html>
